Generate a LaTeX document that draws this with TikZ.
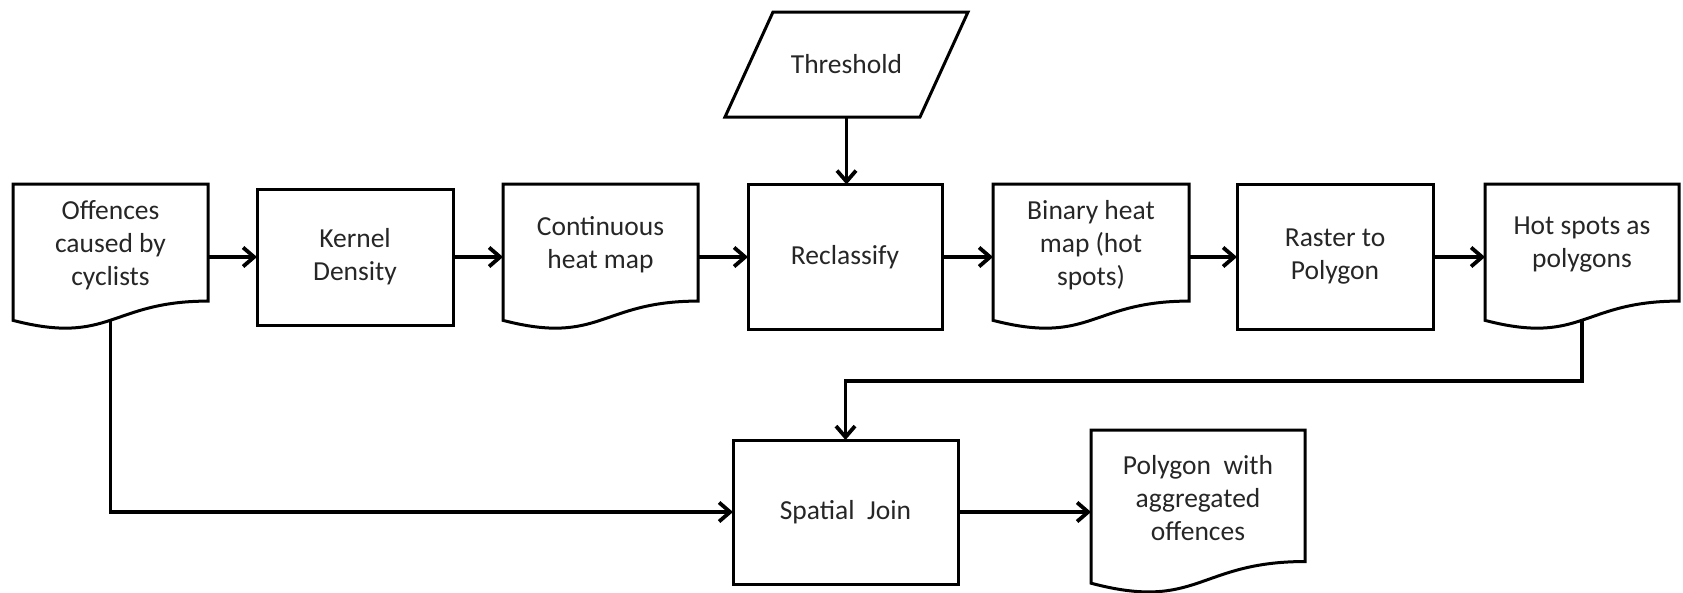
\documentclass[tikz,border=0pt]{standalone}
\usepackage{fontspec}
\setmainfont{Carlito}
\usetikzlibrary{calc,arrows.meta}
\tikzset{
  every node/.style={font=\fontsize{27.5}{33}\selectfont, text=black!85, inner sep=0pt, outer sep=0pt},
  procbox/.style={draw=black, line width=3pt, align=center},
  docbox/.style={draw=none, align=center},
  doctext/.style={align=center, text=black!85},
  conn/.style={line width=3.8pt, -{Straight Barb[length=11pt,width=19pt]}},
  outline/.style={draw=black, line width=3pt, line join=miter}
}
\newcommand\docoutline[1]{%
  \path[outline] let \p1=(#1.north west), \p2=(#1.south east) in
    (\x1,\y1) -- (\x2,\y1) -- (\x2,{\y1+0.802*(\y2-\y1)})
    .. controls ({0.5*(\x1+\x2)},{\y1+0.802*(\y2-\y1)}) and ({0.5*(\x1+\x2)},{\y1+1.1075*(\y2-\y1)}) ..
    (\x1,{\y1+0.934*(\y2-\y1)}) -- cycle;}
\newcommand\paraoutline[2]{%
  \path[outline] let \p1=(#1.north west), \p2=(#1.south east) in
    ({\x1+#2},\y1) -- (\x2,\y1) -- ({\x2-#2},\y2) -- (\x1,\y2) -- cycle;}
\begin{document}
\begin{tikzpicture}[x=1pt,y=-1pt]
\useasboundingbox (0,0) rectangle (1683,592);
% top row
\node[docbox, minimum width=195pt, minimum height=146pt,
  label={[doctext,yshift=12pt]center:{Offences\\caused by\\cyclists}}] (off) at (110.5,257) {};
\node[procbox, minimum width=196pt, minimum height=136pt] (kd) at (355,257) {Kernel\\Density};
\node[docbox, minimum width=195pt, minimum height=146pt,
  label={[doctext,yshift=12pt]center:{Continuous\\heat map}}] (cont) at (600.5,257) {};
\node[procbox, minimum width=194pt, minimum height=145pt] (recl) at (845,257) {Reclassify};
\node[docbox, minimum width=196pt, minimum height=146pt,
  label={[doctext,yshift=12pt]center:{Binary heat\\map (hot\\spots)}}] (bin) at (1091,257) {};
\node[procbox, minimum width=196pt, minimum height=145pt] (ras) at (1335,257) {Raster to\\Polygon};
\node[docbox, minimum width=194pt, minimum height=146pt,
  label={[doctext,yshift=12pt]center:{Hot spots as\\polygons}}] (hot) at (1582,257) {};
% threshold
\node[docbox, minimum width=243pt, minimum height=105pt] (thr) at (846.5,64.5) {Threshold};
% bottom row
\node[procbox, minimum width=225pt, minimum height=144pt] (sj) at (845.5,512) {Spatial~~Join};
\node[docbox, minimum width=214pt, minimum height=164pt,
  label={[doctext,yshift=14pt]center:{Polygon~~with\\aggregated\\offences}}] (pol) at (1198,512) {};
% outlines
\docoutline{off}
\docoutline{cont}
\docoutline{bin}
\docoutline{hot}
\docoutline{pol}
\paraoutline{thr}{48pt}
% helper coordinates
\coordinate (offb) at ($(off.south)+(0,-9.8)$);
\coordinate (hotb) at ($(hot.south)+(0,-9.8)$);
\coordinate (turn) at (845.5,381);
% connectors
\draw[conn] (off.east) -- (off.east -| kd.west);
\draw[conn] (kd.east) -- (kd.east -| cont.west);
\draw[conn] (cont.east) -- (cont.east -| recl.west);
\draw[conn] (recl.east) -- (recl.east -| bin.west);
\draw[conn] (bin.east) -- (bin.east -| ras.west);
\draw[conn] (ras.east) -- (ras.east -| hot.west);
\draw[conn] (thr.south) -- (thr.south |- recl.north);
\draw[conn] (hotb) |- (turn) -- (sj.north);
\draw[conn] (offb) |- (sj.west);
\draw[conn] (sj.east) -- (pol.west);
\end{tikzpicture}
\end{document}
